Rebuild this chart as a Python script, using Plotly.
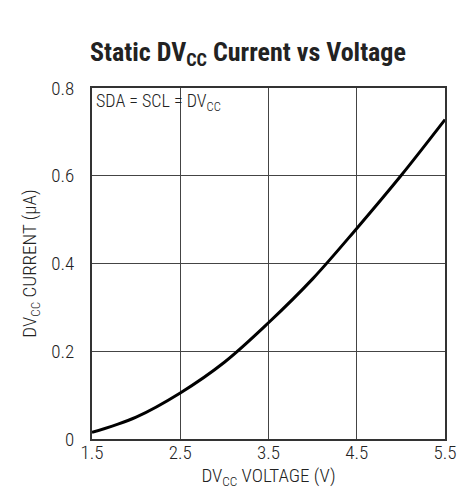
import plotly.graph_objects as go

voltage = [1.5, 2.0, 2.5, 3.0, 3.5, 4.0, 4.5, 5.0, 5.5]
current = [0.015, 0.05, 0.105, 0.175, 0.265, 0.365, 0.48, 0.60, 0.728]

x_ticks = [1.5, 2.5, 3.5, 4.5, 5.5]
x_ticklabels = ["1.5", "2.5", "3.5", "4.5", "5.5"]
y_ticks = [0, 0.2, 0.4, 0.6, 0.8]
y_ticklabels = ["0", "0.2", "0.4", "0.6", "0.8"]

FONT = "Roboto Condensed, Liberation Sans Narrow, sans-serif"
TXT = "#222"

fig = go.Figure()
fig.add_trace(go.Scatter(x=voltage, y=current, mode="lines",
                         line=dict(color="black", width=3, shape="spline"),
                         showlegend=False))

fig.update_layout(
    width=466, height=491,
    margin=dict(l=84, r=29, t=80, b=60),
    paper_bgcolor="white", plot_bgcolor="white",
    font=dict(family=FONT, size=19, color=TXT, weight=300),
    title=dict(text="<b>Static DV<sub>CC</sub> Current vs Voltage</b>",
               x=0.515, xanchor="center", y=0.911, yanchor="middle",
               font=dict(family=FONT, size=26, color=TXT, weight=700)),
    xaxis=dict(range=[1.5, 5.5], tickvals=x_ticks, ticktext=x_ticklabels,
               showgrid=True, gridcolor="#444", gridwidth=1,
               showline=True, linecolor="#333", linewidth=2, mirror=True,
               ticks="", zeroline=False,
               tickfont=dict(family=FONT, size=19, weight=300),
               ticklabelstandoff=-5,
               title=dict(text="DV<sub>CC</sub> VOLTAGE (V)", standoff=2,
                          font=dict(family=FONT, size=19, weight=300))),
    yaxis=dict(range=[0, 0.8], tickvals=y_ticks, ticktext=y_ticklabels,
               showgrid=True, gridcolor="#444", gridwidth=1,
               showline=True, linecolor="#333", linewidth=2, mirror=True,
               ticks="", zeroline=False,
               tickfont=dict(family=FONT, size=19, weight=300),
               ticklabelstandoff=12,
               title=dict(text="DV<sub>CC</sub> CURRENT (µA)", standoff=10,
                          font=dict(family=FONT, size=19, weight=300))),
)

fig.add_annotation(text="SDA = SCL = DV<sub>CC</sub>", xref="paper", yref="paper",
                   x=0.005, y=1.0, xanchor="left", yanchor="top", showarrow=False,
                   font=dict(family=FONT, size=18, color=TXT, weight=300))

fig.write_html("out.html")
